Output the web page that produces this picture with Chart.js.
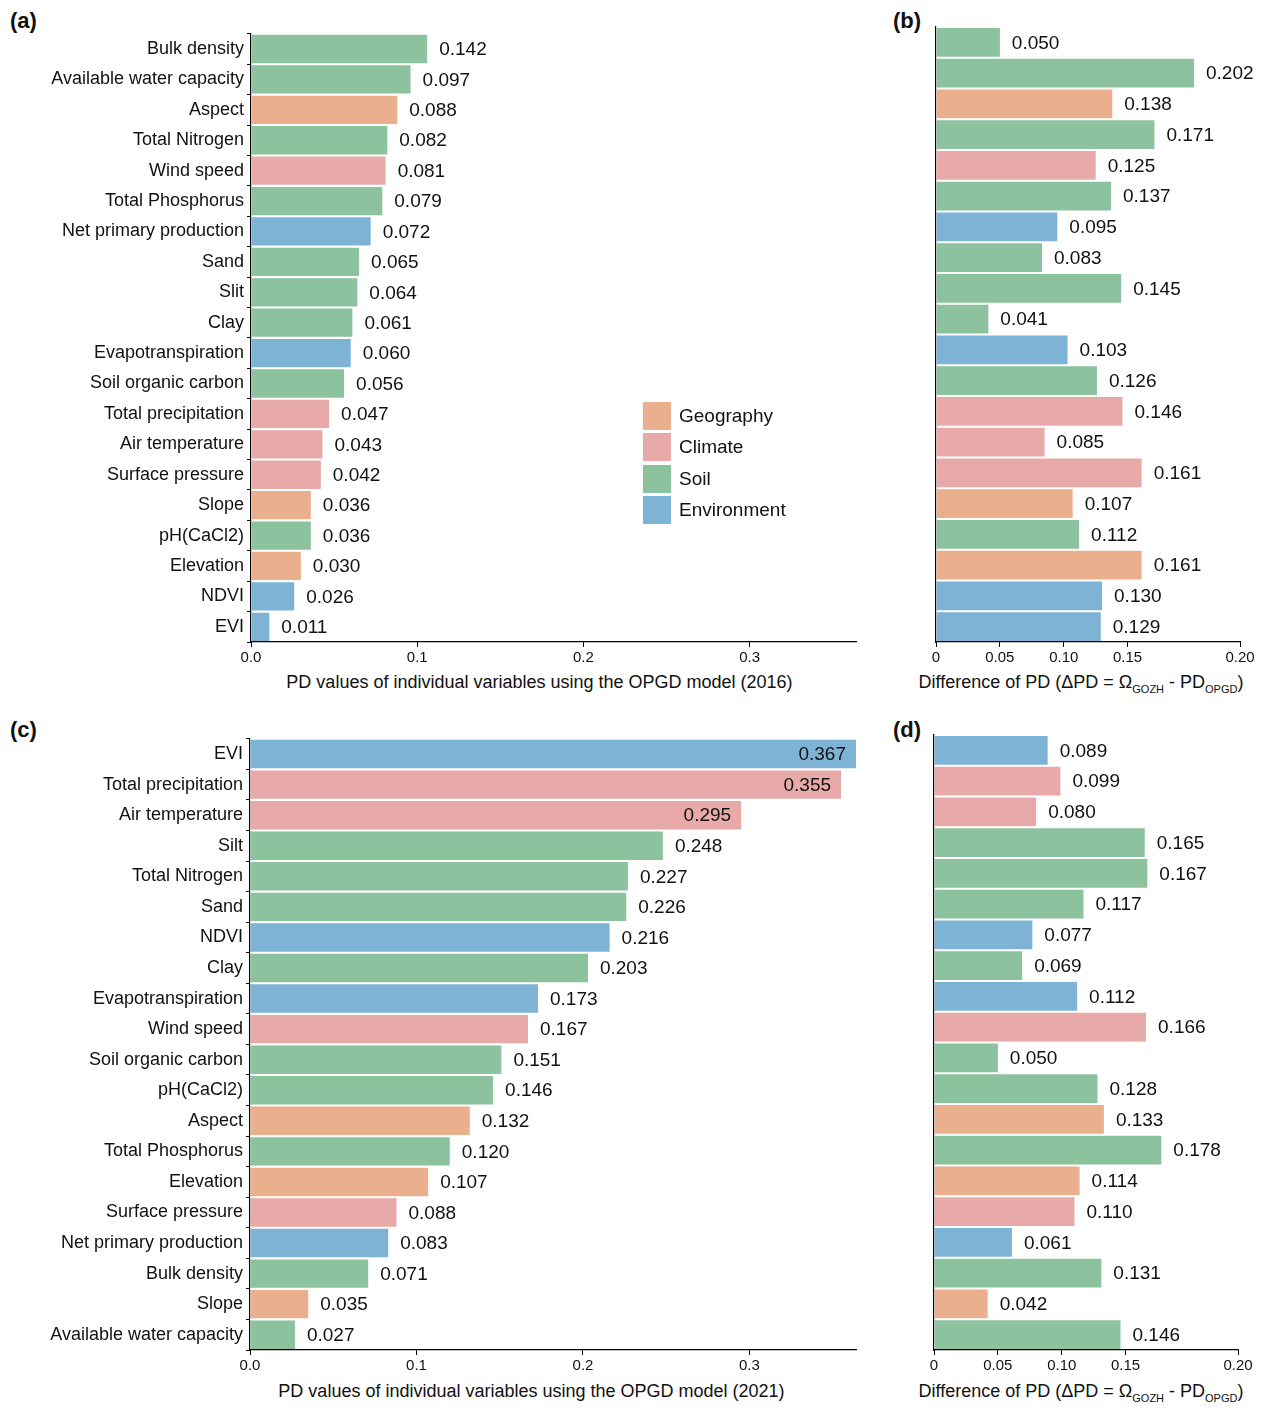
<!DOCTYPE html>
<html><head><meta charset="utf-8">
<script src="https://cdn.jsdelivr.net/npm/chart.js@4"></script>
<style>
body{margin:0;width:1280px;height:1414px;background:#fff;position:relative;font-family:"Liberation Sans",Arial,sans-serif;color:#111}
canvas{position:absolute}
.pl{position:absolute;font-weight:bold;font-size:22px}
.xt{position:absolute;font-size:18px;text-align:center;white-space:nowrap}
.xt sub{font-size:11px}
#legend{position:absolute;left:643px;top:400px;font-size:19px}
#legend div{height:31.5px;display:flex;align-items:center}
#legend span{display:inline-block;width:28px;height:28px;margin-right:8px}
</style></head><body>
<div class="pl" style="left:10px;top:8px">(a)</div>
<div class="pl" style="left:893px;top:8px">(b)</div>
<div class="pl" style="left:10px;top:717px">(c)</div>
<div class="pl" style="left:893px;top:717px">(d)</div>
<canvas id="ca" style="left:0;top:20px" width="870" height="647"></canvas>
<canvas id="cb" style="left:880px;top:20px" width="400" height="647"></canvas>
<canvas id="cc" style="left:0;top:725px" width="870" height="650"></canvas>
<canvas id="cd" style="left:878px;top:725px" width="402" height="650"></canvas>
<div class="xt" style="left:252px;width:575px;top:672px">PD values of individual variables using the OPGD model (2016)</div>
<div class="xt" style="left:896px;width:370px;top:672px">Difference of PD (ΔPD = Ω<sub>GOZH</sub> - PD<sub>OPGD</sub>)</div>
<div class="xt" style="left:244px;width:575px;top:1381px">PD values of individual variables using the OPGD model (2021)</div>
<div class="xt" style="left:896px;width:370px;top:1381px">Difference of PD (ΔPD = Ω<sub>GOZH</sub> - PD<sub>OPGD</sub>)</div>
<div id="legend">
<div><span style="background:#eab08e"></span>Geography</div>
<div><span style="background:#e8aaa9"></span>Climate</div>
<div><span style="background:#8cc29e"></span>Soil</div>
<div><span style="background:#7fb3d5"></span>Environment</div>
</div>
<script>
const groupColors = {G:'#eab08e', C:'#e8aaa9', S:'#8cc29e', E:'#7fb3d5'};

const labels2016 = ['Bulk density','Available water capacity','Aspect','Total Nitrogen','Wind speed','Total Phosphorus','Net primary production','Sand','Slit','Clay','Evapotranspiration','Soil organic carbon','Total precipitation','Air temperature','Surface pressure','Slope','pH(CaCl2)','Elevation','NDVI','EVI'];
const groups2016 = ['S','S','G','S','C','S','E','S','S','S','E','S','C','C','C','G','S','G','E','E'];
const values2016 = [0.106,0.096,0.088,0.082,0.081,0.079,0.072,0.065,0.064,0.061,0.060,0.056,0.047,0.043,0.042,0.036,0.036,0.030,0.026,0.011];
const text2016 = ['0.142','0.097','0.088','0.082','0.081','0.079','0.072','0.065','0.064','0.061','0.060','0.056','0.047','0.043','0.042','0.036','0.036','0.030','0.026','0.011'];
const diff2016 = [0.050,0.202,0.138,0.171,0.125,0.137,0.095,0.083,0.145,0.041,0.103,0.126,0.146,0.085,0.161,0.107,0.112,0.161,0.130,0.129];

const labels2021 = ['EVI','Total precipitation','Air temperature','Silt','Total Nitrogen','Sand','NDVI','Clay','Evapotranspiration','Wind speed','Soil organic carbon','pH(CaCl2)','Aspect','Total Phosphorus','Elevation','Surface pressure','Net primary production','Bulk density','Slope','Available water capacity'];
const groups2021 = ['E','C','C','S','S','S','E','S','E','C','S','S','G','S','G','C','E','S','G','S'];
const values2021 = [0.367,0.355,0.295,0.248,0.227,0.226,0.216,0.203,0.173,0.167,0.151,0.146,0.132,0.120,0.107,0.088,0.083,0.071,0.035,0.027];
const diff2021 = [0.089,0.099,0.080,0.165,0.167,0.117,0.077,0.069,0.112,0.166,0.050,0.128,0.133,0.178,0.114,0.110,0.061,0.131,0.042,0.146];

const ticksMain = ['0.0','0.1','0.2','0.3'];
const ticksDiff = ['0','0.05','0.10','0.15','0.20'];

Chart.defaults.font.family = '"Liberation Sans", Arial, sans-serif';
Chart.defaults.color = '#111';

const valueLabels = {
  id: 'valueLabels',
  afterDatasetsDraw(chart, args, opts) {
    const ctx = chart.ctx, area = chart.chartArea;
    const meta = chart.getDatasetMeta(0);
    ctx.save();
    ctx.font = '19px "Liberation Sans", Arial, sans-serif';
    ctx.fillStyle = '#111';
    ctx.textBaseline = 'middle';
    meta.data.forEach((bar, i) => {
      const txt = opts.texts[i];
      const end = Math.min(bar.x, area.right);
      if (i < (opts.inside || 0)) {
        ctx.textAlign = 'right';
        ctx.fillText(txt, end - 10, bar.y + 1);
      } else {
        ctx.textAlign = 'left';
        ctx.fillText(txt, end + 12, bar.y + 1);
      }
    });
    ctx.restore();
  }
};

function makeChart(id, labels, values, groups, texts, opt) {
  new Chart(document.getElementById(id), {
    type: 'bar',
    data: {labels, datasets: [{data: values, backgroundColor: groups.map(g => groupColors[g]),
      barPercentage: 0.93, categoryPercentage: 1}]},
    plugins: [valueLabels],
    options: {
      indexAxis: 'y', responsive: false, animation: false,
      layout: {padding: {top: opt.top, right: opt.right, left: 0, bottom: 0}},
      plugins: {legend: {display: false}, tooltip: {enabled: false},
        valueLabels: {texts, inside: opt.inside || 0}},
      scales: {
        x: {min: 0, max: opt.max,
          afterFit: s => { s.height = 25; },
          ticks: {stepSize: opt.step, autoSkip: false, maxRotation: 0, font: {size: 15}, padding: 2,
            callback: (v, i) => opt.ticks[i]},
          grid: {drawOnChartArea: false, drawTicks: true, tickLength: 5, color: '#000'},
          border: {color: '#000', width: 1.2}},
        y: {
          afterFit: s => { s.width = opt.yw; },
          ticks: {display: opt.showY, font: {size: 18}, padding: 3, color: '#111'},
          grid: {drawOnChartArea: false, drawTicks: opt.showY, tickLength: 4, color: '#000'},
          border: {color: '#000', width: 1.2}}
      }
    }
  });
}

const diffText = a => a.map(v => v.toFixed(3));
makeChart('ca', labels2016, values2016, groups2016, text2016, {top: 7, right: 14, yw: 251, max: 0.364, step: 0.1, ticks: ticksMain, showY: true});
makeChart('cb', labels2016, diff2016, groups2016, diffText(diff2016), {top: 7, right: 40, yw: 56, max: 0.238, step: 0.05, ticks: ticksDiff, showY: false});
makeChart('cc', labels2021, values2021, groups2021, diffText(values2021), {top: 10, right: 14, yw: 250, max: 0.364, step: 0.1, ticks: ticksMain, showY: true, inside: 3});
makeChart('cd', labels2021, diff2021, groups2021, diffText(diff2021), {top: 10, right: 42, yw: 56, max: 0.238, step: 0.05, ticks: ticksDiff, showY: false});
</script>
</body></html>
